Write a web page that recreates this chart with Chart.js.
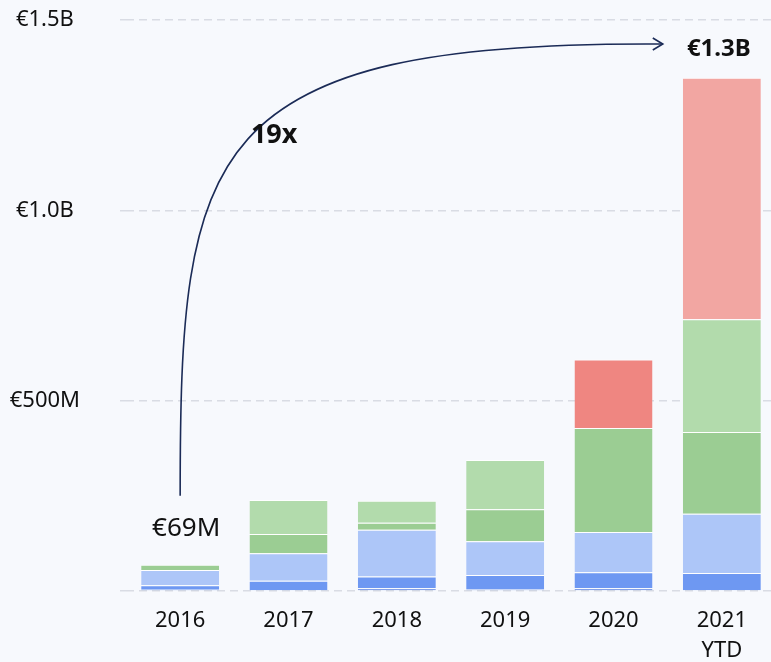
<!DOCTYPE html>
<html>
<head>
<meta charset="utf-8">
<script src="https://cdn.jsdelivr.net/npm/chart.js@4/dist/chart.umd.min.js"></script>
<style>
  html, body { margin: 0; padding: 0; background: #f7f9fd; overflow: hidden; }
  #wrap { width: 780px; height: 662px; }
</style>
</head>
<body>
<div id="wrap"><canvas id="chart" width="780" height="662"></canvas></div>
<script>
// values in millions of euro
const years = ['2016', '2017', '2018', '2019', '2020', ['2021', 'YTD']];
const darkBlue = [3, 2, 7, 4, 7, 0];
const blue = [12, 25, 31, 38, 42, 47];
const lightBlue = [40, 72, 123, 89, 106, 156];
const green = [14, 51, 18, 84, 273, 215];
const lightGreen = [0, 89, 58, 129, 0, 296];
const red = [0, 0, 0, 0, 180, 0];
const lightRed = [0, 0, 0, 0, 0, 634];
const yTicks = [0, 500, 1000, 1500];

const FONT = '"Noto Sans", sans-serif';

function seg(label, data, color) {
    return {
        label: label,
        data: data,
        backgroundColor: color,
        borderColor: '#ffffff',
        borderWidth: { top: 1, left: 0, right: 0, bottom: 0 },
        borderSkipped: false
    };
}

function money(v) {
    if (v === 0) return '';
    if (v >= 1000) return '€' + (v / 1000).toFixed(1) + 'B';
    return '€' + v + 'M';
}

const annotations = {
    id: 'annotations',
    afterDatasetsDraw(chart) {
        const ctx = chart.ctx;
        const x = chart.scales.x;
        const y = chart.scales.y;
        const barW = x.getPixelForValue(1) - x.getPixelForValue(0);

        // growth arrow
        const sx = x.getPixelForValue(0);
        const sy = y.getPixelForValue(250);
        const ex = x.getPixelForValue(5) - barW * 0.545;
        const ey = y.getPixelForValue(1437);
        ctx.save();
        ctx.strokeStyle = '#1b2b57';
        ctx.lineWidth = 1.6;
        ctx.beginPath();
        ctx.moveTo(sx, sy);
        ctx.bezierCurveTo(sx, y.getPixelForValue(1160), sx + 20, ey - 3, ex, ey);
        ctx.stroke();
        ctx.beginPath();
        ctx.moveTo(ex - 10, ey - 6);
        ctx.lineTo(ex, ey);
        ctx.lineTo(ex - 10, ey + 6);
        ctx.stroke();

        ctx.fillStyle = '#111111';
        ctx.textAlign = 'center';
        ctx.textBaseline = 'middle';
        ctx.font = 'bold 27px ' + FONT;
        ctx.fillText('19x', sx + 94, y.getPixelForValue(1197));
        ctx.font = '26px ' + FONT;
        ctx.fillText('€69M', sx + 6, y.getPixelForValue(163));
        ctx.font = 'bold 24px ' + FONT;
        ctx.fillText('€1.3B', x.getPixelForValue(5) - 3, y.getPixelForValue(1424));
        ctx.restore();
    }
};

new Chart(document.getElementById('chart'), {
    type: 'bar',
    data: {
        labels: years,
        datasets: [
            seg('dark blue', darkBlue, '#5a80e0'),
            seg('blue', blue, '#6e98f2'),
            seg('light blue', lightBlue, '#adc6f8'),
            seg('green', green, '#9bcd93'),
            seg('light green', lightGreen, '#b2dbac'),
            seg('red', red, '#ef8681'),
            seg('light red', lightRed, '#f2a6a2')
        ]
    },
    options: {
        responsive: false,
        animation: false,
        layout: { padding: { top: 20, right: 4, left: 0, bottom: 0 } },
        datasets: { bar: { categoryPercentage: 0.8, barPercentage: 0.9 } },
        plugins: {
            legend: { display: false },
            tooltip: { enabled: false }
        },
        scales: {
            x: {
                stacked: true,
                grid: { display: false, drawTicks: false },
                border: { display: false },
                ticks: {
                    color: '#111111',
                    padding: 15,
                    font: { family: FONT, size: 22, lineHeight: 1.36 },
                    maxRotation: 0
                },
                afterFit(scale) { scale.height = 71; }
            },
            y: {
                stacked: true,
                min: 0,
                max: 1500,
                afterBuildTicks(scale) { scale.ticks = yTicks.map(v => ({ value: v })); },
                grid: {
                    color: '#d9dce4',
                    lineWidth: 1.5,
                    tickLength: 6,
                    tickBorderDash: [8, 5],
                    tickColor: '#d9dce4'
                },
                border: { display: false, dash: [8, 5] },
                ticks: {
                    color: '#111111',
                    padding: 40,
                    crossAlign: 'center',
                    font: { family: FONT, size: 22 },
                    callback: v => money(v)
                },
                afterFit(scale) {
                    scale.width = 126;
                    scale.paddingTop = 0;
                    scale.paddingBottom = 0;
                }
            }
        }
    },
    plugins: [annotations]
});
</script>
</body>
</html>
